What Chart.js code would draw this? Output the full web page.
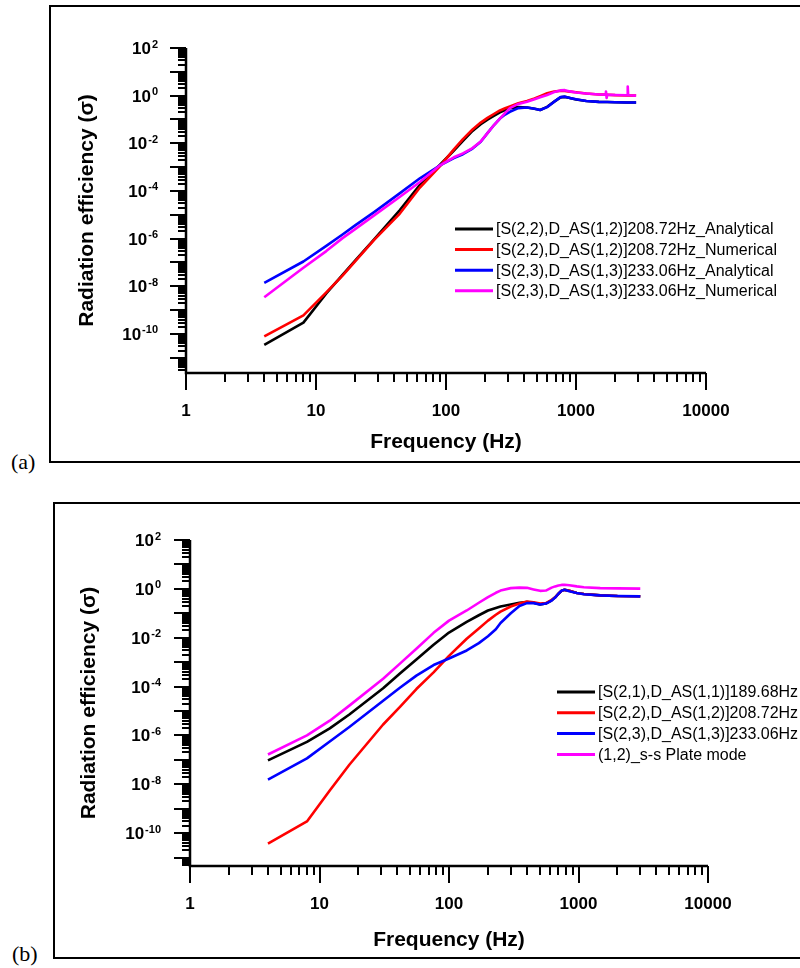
<!DOCTYPE html>
<html lang="en">
<head>
<meta charset="UTF-8">
<title>Radiation efficiency</title>
<script src="https://cdn.jsdelivr.net/npm/chart.js"></script>
<style>
    body { margin: 0; width: 800px; height: 968px; overflow: hidden; background: #fff; position: relative; }
    .frame { position: absolute; border: 2px solid #000; background: #fff; }
    #frameA { left: 49px; top: 5px; width: 800px; height: 454px; }
    #frameB { left: 53px; top: 502px; width: 800px; height: 453px; }
    .tag { position: absolute; font-family: "Liberation Serif", "Times New Roman", serif; font-size: 22px; line-height: 22px; }
    canvas { position: absolute; left: 0; }
</style>
</head>
<body>
<div class="frame" id="frameA"></div>
<div class="frame" id="frameB"></div>
<div class="tag" style="left:11px; top:451px;">(a)</div>
<div class="tag" style="left:12px; top:943px;">(b)</div>
<canvas id="chartA" width="800" height="480" style="top:0; width:800px; height:480px;"></canvas>
<canvas id="chartB" width="800" height="488" style="top:480px; width:800px; height:488px;"></canvas>

<script>
// ---- data ----
const xTickValues = [1, 10, 100, 1000, 10000];
const xTickLabels = ['1', '10', '100', '1000', '10000'];
const yTickExponents = [2, 0, -2, -4, -6, -8, -10];

// panel (a)
const freqA = [4, 8, 12, 16, 20, 28, 44, 63, 90, 115, 135, 160, 185, 210, 235, 260, 285, 310, 360, 420, 480, 530, 600, 680, 760, 820, 900, 1000, 1200, 1500, 1690, 1700, 1720, 1740, 2000, 2480, 2500, 2520, 2900];
const blackA = [3.5e-11, 3.0e-10, 5.0e-9, 3.0e-8, 1.2e-7, 9.3e-7, 1.55e-5, 1.8e-4, 1.26e-3, 5.0e-3, 0.0126, 0.033, 0.063, 0.10, 0.145, 0.20, 0.25, 0.30, 0.33, 0.32, 0.28, 0.25, 0.34, 0.56, 0.85, 0.89, 0.79, 0.69, 0.60, 0.55, 0.54, 0.54, 0.54, 0.54, 0.53, 0.52, 0.52, 0.52, 0.52];
const redA = [7.9e-11, 6.0e-10, 5.6e-9, 2.8e-8, 1.1e-7, 8.9e-7, 1.1e-5, 1.4e-4, 1.1e-3, 5.6e-3, 0.015, 0.038, 0.074, 0.12, 0.174, 0.24, 0.295, 0.35, 0.48, 0.60, 0.76, 0.95, 1.26, 1.48, 1.62, 1.58, 1.48, 1.38, 1.23, 1.12, 1.10, 1.10, 1.10, 1.10, 1.05, 1.02, 1.02, 1.02, 1.00];
const blueA = [1.4e-8, 1.1e-7, 5.0e-7, 1.5e-6, 3.6e-6, 1.3e-5, 7.9e-5, 3.4e-4, 1.2e-3, 2.4e-3, 3.5e-3, 6.0e-3, 0.0117, 0.028, 0.060, 0.11, 0.162, 0.21, 0.30, 0.32, 0.28, 0.25, 0.33, 0.56, 0.87, 0.91, 0.79, 0.71, 0.60, 0.55, 0.54, 0.54, 0.54, 0.54, 0.53, 0.52, 0.52, 0.52, 0.52];
const magentaA = [3.5e-9, 6.0e-8, 3.0e-7, 1.05e-6, 2.5e-6, 9.5e-6, 5.6e-5, 2.4e-4, 1.2e-3, 2.6e-3, 3.8e-3, 6.3e-3, 0.012, 0.028, 0.060, 0.11, 0.19, 0.30, 0.45, 0.56, 0.71, 0.85, 1.07, 1.41, 1.66, 1.70, 1.51, 1.35, 1.23, 1.12, 1.10, 1.50, 0.80, 1.10, 1.07, 1.04, 2.40, 1.04, 1.00];
const labelsA = [
    '[S(2,2),D_AS(1,2)]208.72Hz_Analytical',
    '[S(2,2),D_AS(1,2)]208.72Hz_Numerical',
    '[S(2,3),D_AS(1,3)]233.06Hz_Analytical',
    '[S(2,3),D_AS(1,3)]233.06Hz_Numerical'
];

// panel (b)
const freqB = [4, 8, 12, 17, 31, 42, 56, 76, 100, 137, 170, 200, 230, 250, 300, 350, 400, 450, 505, 560, 620, 660, 700, 740, 780, 850, 970, 1100, 1470, 2000, 3000];
const blackB = [9.5e-8, 5.4e-7, 1.95e-6, 7.2e-6, 8.5e-5, 3.5e-4, 1.29e-3, 5.1e-3, 0.0162, 0.044, 0.083, 0.13, 0.166, 0.19, 0.23, 0.27, 0.29, 0.27, 0.23, 0.25, 0.34, 0.45, 0.63, 0.84, 0.91, 0.83, 0.68, 0.62, 0.54, 0.51, 0.50];
const redB = [3.7e-11, 3.0e-10, 5.6e-9, 6.3e-8, 2.8e-6, 1.5e-5, 7.9e-5, 3.8e-4, 1.8e-3, 9.1e-3, 0.024, 0.050, 0.087, 0.117, 0.19, 0.25, 0.30, 0.28, 0.25, 0.26, 0.35, 0.45, 0.63, 0.84, 0.91, 0.83, 0.68, 0.62, 0.54, 0.51, 0.50];
const blueB = [1.55e-8, 1.15e-7, 5.6e-7, 2.2e-6, 2.6e-5, 9.1e-5, 2.8e-4, 7.6e-4, 1.4e-3, 3.0e-3, 6.0e-3, 0.0115, 0.022, 0.040, 0.10, 0.20, 0.26, 0.26, 0.23, 0.25, 0.33, 0.44, 0.63, 0.84, 0.91, 0.79, 0.68, 0.60, 0.54, 0.51, 0.49];
const magentaB = [1.65e-7, 1.0e-6, 4.0e-6, 1.66e-5, 2.1e-4, 8.9e-4, 3.5e-3, 0.0158, 0.050, 0.13, 0.27, 0.46, 0.69, 0.85, 1.07, 1.12, 1.10, 0.95, 0.83, 0.85, 1.12, 1.26, 1.38, 1.45, 1.48, 1.41, 1.26, 1.17, 1.07, 1.05, 1.02];
const labelsB = [
    '[S(2,1),D_AS(1,1)]189.68Hz',
    '[S(2,2),D_AS(1,2)]208.72Hz',
    '[S(2,3),D_AS(1,3)]233.06Hz',
    '(1,2)_s-s Plate mode'
];

const colors = ['#000000', '#ff0000', '#0000ff', '#ff00ff'];
const sans = '"Liberation Sans", Arial, sans-serif';

// Origin-style axes: thick left/bottom lines, outward log ticks, 10^n labels, titles and legend
const originAxes = {
    id: 'originAxes',
    afterDatasetsDraw(chart, args, o) {
        const ctx = chart.ctx;
        const xs = chart.scales.x, ys = chart.scales.y;
        const a = chart.chartArea;
        ctx.save();
        ctx.strokeStyle = '#000';
        ctx.fillStyle = '#000';
        ctx.lineCap = 'butt';

        // axis lines
        ctx.lineWidth = 2.5;
        ctx.beginPath();
        ctx.moveTo(a.left, a.top);
        ctx.lineTo(a.left, a.bottom);
        ctx.lineTo(a.right, a.bottom);
        ctx.stroke();

        // ticks
        ctx.lineWidth = 2;
        ctx.beginPath();
        for (let d = 0; d <= 4; d++) {
            for (let k = 1; k <= 9; k++) {
                const v = k * Math.pow(10, d);
                if (v > xs.max * 1.0001) break;
                const px = Math.round(xs.getPixelForValue(v));
                ctx.moveTo(px, a.bottom);
                ctx.lineTo(px, a.bottom + (k === 1 ? 17 : 9));
            }
        }
        const dMin = Math.floor(Math.log10(ys.min));
        for (let d = dMin; d <= 2; d++) {
            for (let k = 1; k <= 9; k++) {
                const v = k * Math.pow(10, d);
                if (v < ys.min || v > ys.max * 1.0001) continue;
                const py = Math.round(ys.getPixelForValue(v));
                ctx.moveTo(a.left, py);
                ctx.lineTo(a.left - (k === 1 ? 16 : 8), py);
            }
        }
        ctx.stroke();

        // x tick labels
        ctx.font = 'bold 17px ' + sans;
        ctx.textAlign = 'center';
        ctx.textBaseline = 'alphabetic';
        xTickValues.forEach((v, i) => {
            ctx.fillText(xTickLabels[i], xs.getPixelForValue(v), a.bottom + 43);
        });

        // y tick labels as 10 with superscript exponent
        ctx.textAlign = 'left';
        yTickExponents.forEach(e => {
            const py = ys.getPixelForValue(Math.pow(10, e));
            const sup = String(e);
            ctx.font = 'bold 11px ' + sans;
            const supW = ctx.measureText(sup).width;
            ctx.font = 'bold 17px ' + sans;
            const baseW = ctx.measureText('10').width;
            const x0 = a.left - o.yLabelGap - supW - baseW - 1;
            ctx.fillText('10', x0, py + 6);
            ctx.font = 'bold 11px ' + sans;
            ctx.fillText(sup, x0 + baseW + 1, py - 0.5);
        });

        // axis titles
        ctx.font = 'bold 21px ' + sans;
        ctx.textAlign = 'center';
        ctx.fillText('Frequency (Hz)', (a.left + a.right) / 2, o.xTitleY);
        ctx.save();
        ctx.translate(o.yTitleX, (a.top + a.bottom) / 2);
        ctx.rotate(-Math.PI / 2);
        ctx.fillText('Radiation efficiency (\u03c3)', 0, 0);
        ctx.restore();

        // legend
        ctx.font = '16px ' + sans;
        ctx.textAlign = 'left';
        ctx.textBaseline = 'middle';
        chart.data.datasets.forEach((ds, i) => {
            const y = o.legendY + i * o.legendGap;
            ctx.strokeStyle = ds.borderColor;
            ctx.lineWidth = 3;
            ctx.beginPath();
            ctx.moveTo(o.legendX, y);
            ctx.lineTo(o.legendX + 38, y);
            ctx.stroke();
            ctx.fillText(ds.label, o.legendX + 41, y + 1);
        });
        ctx.restore();
    }
};

function makeChart(id, freq, series, labels, yMin, pad, axisOpts) {
    const datasets = series.map((vals, i) => ({
        label: labels[i],
        data: freq.map((f, j) => ({ x: f, y: vals[j] })),
        borderColor: colors[i],
        backgroundColor: colors[i],
        borderWidth: 2.6,
        borderJoinStyle: 'round',
        pointRadius: 0,
        fill: false,
        tension: 0,
        order: 4 - i
    }));
    return new Chart(document.getElementById(id).getContext('2d'), {
        type: 'line',
        data: { datasets: datasets },
        options: {
            responsive: false,
            animation: false,
            devicePixelRatio: 1,
            layout: { padding: pad },
            plugins: { legend: { display: false }, tooltip: { enabled: false }, originAxes: axisOpts },
            scales: {
                x: { type: 'logarithmic', min: 1, max: 10000, display: false },
                y: { type: 'logarithmic', min: yMin, max: 100, display: false }
            }
        },
        plugins: [originAxes]
    });
}

makeChart('chartA', freqA, [blackA, redA, blueA, magentaA], labelsA, 2.3e-12,
    { left: 186, top: 48, right: 94, bottom: 107 },
    { yLabelGap: 28, xTitleY: 448, yTitleX: 93, legendX: 455, legendY: 229, legendGap: 20.6 });

makeChart('chartB', freqB, [blackB, redB, blueB, magentaB], labelsB, 4.5e-12,
    { left: 190, top: 60, right: 92, bottom: 102 },
    { yLabelGap: 29, xTitleY: 466, yTitleX: 95, legendX: 557, legendY: 212, legendGap: 20.8 });
</script>
</body>
</html>
